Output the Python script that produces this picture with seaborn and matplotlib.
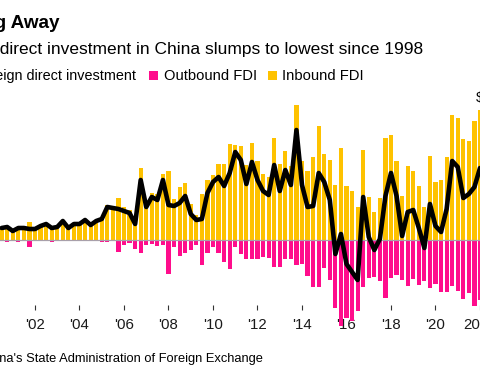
import pandas as pd
import seaborn as sns
import matplotlib.pyplot as plt
from matplotlib.patches import Rectangle

# Quarterly FDI, $B, 2000Q3 .. 2022Q1
quarters = pd.period_range("2000Q3", "2022Q1", freq="Q")

inbound = [13, 13, 10, 12, 12, 18, 12, 13, 17, 13,
           14, 20, 13, 17, 17, 20, 15, 18, 23, 35,
           34, 42, 33, 30, 16, 72, 33, 47, 46, 66,
           69, 41, 53, 57, 36, 25, 46, 60, 65, 76,
           76, 96, 95, 94, 75, 97, 79, 66, 63, 102,
           76, 89, 74, 135, 79, 69, 83, 114, 86, 80,
           55, 92, 54, 49, 33, 90, 43, 28, 42, 102,
           105, 79, 44, 74, 69, 54, 33, 84, 58, 60,
           83, 125, 122, 101, 99, 119, 130]

outbound = [0, -2, 0, -1.5, 0, -7, 0, 0, 0, -2,
            0, 0, 0, 0, 0, 0, 0, 0, -2, -2,
            0, -12, -5, -3, -9, -13, -5, -4, -6, -5,
            -34, -7, -16, -13, -10, -5, -25, -13, -7, -13,
            -22, -29, -7, -14, -19, -19, -19, -17, -18, -27,
            -27, -19, -19, -25, -24, -36, -47, -47, -28, -40,
            -68, -86, -78, -81, -71, -47, -38, -37, -41, -58,
            -38, -35, -40, -46, -39, -45, -41, -48, -44, -52,
            -52, -46, -51, -59, -53, -66, -60]

net = [12, 13, 9, 12, 12, 11, 11, 14, 16, 12,
       13, 19, 12, 16, 16, 20, 15, 19, 21, 33,
       32, 31, 29, 27, 16, 60, 33, 43, 40, 60,
       35, 34, 37, 44, 26, 20, 21, 47, 58, 63,
       54, 67, 88, 80, 56, 78, 60, 49, 45, 75,
       49, 70, 55, 110, 55, 33, 34, 67, 58, 40,
       -14, 6, -24, -32, -40, 43, 3, -10, 1, 44,
       67, 44, 4, 28, 30, 12, -8, 36, 14, 8,
       31, 79, 73, 42, 46, 53, 72]

tick_years = [2002, 2004, 2006, 2008, 2010, 2012, 2014, 2016, 2018, 2020, 2022]
tick_labels = ["'02", "'04", "'06", "'08", "'10", "'12", "'14", "'16", "'18", "'20", "2022"]

PINK = "#FF0D8C"
YELLOW = "#FEC200"

df = pd.DataFrame({
    "t": [q.year + (q.quarter - 1) / 4 for q in quarters],
    "inbound": inbound,
    "outbound": outbound,
    "net": net,
})

sns.set_theme(style="white")
plt.rcParams["font.family"] = ["Liberation Sans", "DejaVu Sans"]

W, H = 480, 386
fig = plt.figure(figsize=(W / 100, H / 100), dpi=100)


def fx(x):
    return x / W


def fy(y):
    return 1 - y / H


# the chart is cropped: axes run past the left/right edges of the picture
ax_left, ax_right, ax_top, ax_bot = -60, 540, 95, 305
ax = fig.add_axes([fx(ax_left), fy(ax_bot), (ax_right - ax_left) / W, (ax_bot - ax_top) / H])

sns.barplot(data=df, x="t", y="inbound", native_scale=True, color=YELLOW,
            saturation=1, width=0.75, errorbar=None, linewidth=0, ax=ax)
sns.barplot(data=df, x="t", y="outbound", native_scale=True, color=PINK,
            saturation=1, width=0.75, errorbar=None, linewidth=0, ax=ax)
for p in ax.patches:
    p.set_clip_on(False)

ax.axhline(0, color="#a8a0aa", lw=0.9, zorder=1.5)
sns.lineplot(data=df, x="t", y="net", color="black", linewidth=3.3, ax=ax, zorder=3)
ax.lines[-1].set_solid_joinstyle("round")

# pixel -> data: x = 35 + (t - 2002) * 22.25 ; y = 240 - value
ax.set_xlim(2002 + (ax_left - 35) / 22.25, 2002 + (ax_right - 35) / 22.25)
ax.set_ylim(240 - ax_bot, 240 - ax_top)

ax.set_xticks(tick_years)
ax.set_xticklabels(tick_labels)
ax.set_yticks([])
ax.set_xlabel("")
ax.set_ylabel("")
for s in ax.spines.values():
    s.set_visible(False)
ax.tick_params(axis="x", direction="out", length=3.6, width=0.8, color="#333333",
               pad=6, labelsize=10.8, labelcolor="#1a1a1a", bottom=True)

# titles
fig.text(fx(60), fy(28), "Ebbing Away", ha="right", va="baseline",
         fontsize=13.6, fontweight="bold", color="black")
fig.text(fx(423), fy(54), "Foreign direct investment in China slumps to lowest since 1998",
         ha="right", va="baseline", fontsize=12.5, color="black")

# legend row
fig.text(fx(136), fy(80), "Net foreign direct investment", ha="right", va="baseline",
         fontsize=10.4, color="black")
fig.add_artist(Rectangle((fx(149), fy(80)), 9 / W, 9.5 / H, transform=fig.transFigure,
                         color=PINK, lw=0))
fig.text(fx(164), fy(80), "Outbound FDI", ha="left", va="baseline", fontsize=10.6, color="black")
fig.add_artist(Rectangle((fx(268), fy(80)), 9 / W, 9.5 / H, transform=fig.transFigure,
                         color=YELLOW, lw=0))
fig.text(fx(282), fy(80), "Inbound FDI", ha="left", va="baseline", fontsize=10.6, color="black")

fig.text(fx(476), fy(102), "$100B", ha="left", va="baseline", fontsize=10.5, color="black")

fig.text(fx(263), fy(362), "Source: China's State Administration of Foreign Exchange",
         ha="right", va="baseline", fontsize=9.3, color="black")

fig.savefig("out.png", dpi=100)
